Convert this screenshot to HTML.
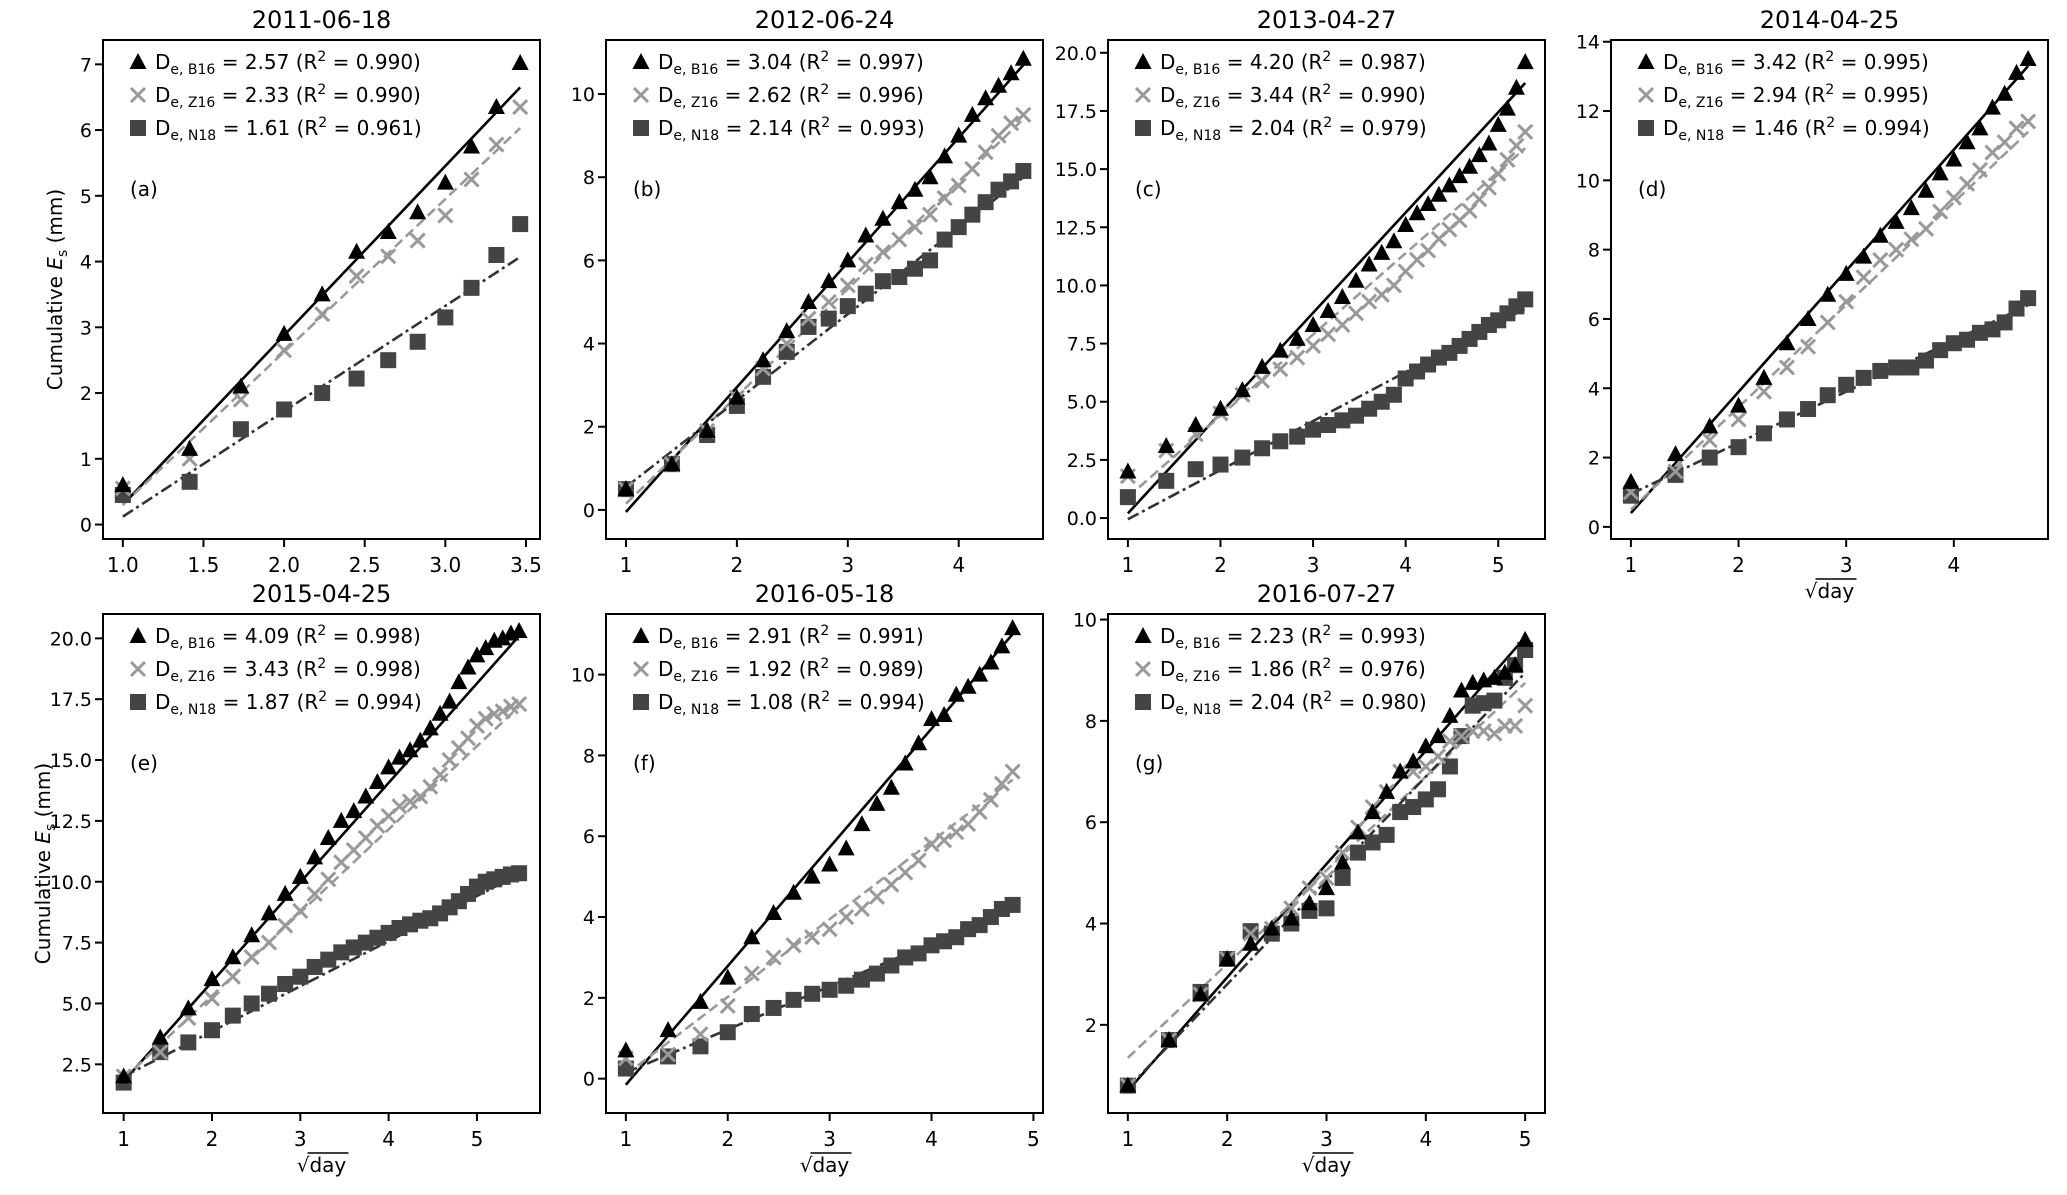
<!DOCTYPE html>
<html><head><meta charset="utf-8"><style>
html,body{margin:0;padding:0;background:#fff;}
svg{display:block;font-family:"DejaVu Sans","Liberation Sans",sans-serif;}
</style></head><body>
<svg id="fig" width="2067" height="1195" viewBox="0 0 2067 1195" xmlns="http://www.w3.org/2000/svg"></svg>
<script>
// ---- data ----
const titles = ["2011-06-18","2012-06-24","2013-04-27","2014-04-25","2015-04-25","2016-05-18","2016-07-27"];
const panelLabels = ["(a)","(b)","(c)","(d)","(e)","(f)","(g)"];
const dayCounts = [12,21,28,22,30,23,25];
const b16 = [
 [0.6,1.15,2.1,2.9,3.5,4.15,4.45,4.75,5.2,5.75,6.35,7.02],
 [0.5,1.1,1.9,2.7,3.6,4.3,5.0,5.5,6.0,6.6,7.0,7.4,7.7,8.0,8.5,9.0,9.5,9.9,10.2,10.5,10.85],
 [2.0,3.1,4.0,4.7,5.5,6.5,7.2,7.7,8.3,8.9,9.5,10.2,10.9,11.4,11.9,12.6,13.1,13.5,13.9,14.3,14.7,15.1,15.6,16.1,16.9,17.6,18.5,19.6],
 [1.3,2.1,2.9,3.5,4.3,5.3,6.0,6.7,7.3,7.8,8.4,8.8,9.2,9.7,10.2,10.6,11.1,11.5,12.1,12.5,13.1,13.5],
 [2.0,3.6,4.8,6.0,6.9,7.8,8.7,9.5,10.2,11.0,11.8,12.5,12.9,13.5,14.1,14.7,15.1,15.4,15.8,16.3,16.9,17.4,18.2,18.8,19.3,19.6,19.9,20.0,20.2,20.3],
 [0.7,1.2,1.9,2.5,3.5,4.1,4.6,5.0,5.3,5.7,6.3,6.8,7.2,7.8,8.3,8.9,9.0,9.5,9.7,10.0,10.3,10.7,11.15],
 [0.8,1.7,2.6,3.3,3.6,3.9,4.1,4.4,4.7,5.2,5.8,6.2,6.6,7.0,7.2,7.5,7.7,8.1,8.6,8.75,8.8,8.85,8.95,9.1,9.6]
];
const z16 = [
 [0.55,1.0,1.9,2.65,3.2,3.78,4.08,4.32,4.7,5.25,5.78,6.35],
 [0.5,1.1,1.9,2.7,3.4,4.0,4.6,5.0,5.4,5.9,6.2,6.5,6.8,7.1,7.5,7.8,8.2,8.6,9.0,9.3,9.5],
 [1.8,2.9,3.6,4.5,5.3,5.9,6.4,6.9,7.4,7.9,8.3,8.8,9.3,9.6,10.0,10.6,11.1,11.5,12.0,12.4,12.8,13.2,13.7,14.2,14.8,15.4,16.0,16.6],
 [1.0,1.6,2.5,3.1,3.9,4.6,5.2,5.9,6.5,7.2,7.7,8.0,8.3,8.6,9.1,9.5,9.9,10.3,10.8,11.1,11.5,11.7],
 [2.0,3.0,4.4,5.2,6.1,6.9,7.5,8.2,8.8,9.5,10.1,10.8,11.3,11.8,12.3,12.7,13.1,13.3,13.5,13.9,14.4,15.0,15.5,15.9,16.4,16.7,16.9,17.0,17.2,17.3],
 [0.5,0.6,1.1,1.8,2.6,3.0,3.3,3.5,3.7,4.0,4.2,4.5,4.8,5.1,5.4,5.8,5.9,6.1,6.3,6.6,6.9,7.3,7.6],
 [0.8,1.7,2.6,3.3,3.8,3.9,4.3,4.7,4.9,5.4,5.9,6.3,6.6,7.0,7.0,7.1,7.3,7.6,7.7,7.8,7.8,7.75,7.9,7.9,8.3]
];
const n18 = [
 [0.45,0.65,1.45,1.75,2.0,2.22,2.5,2.78,3.15,3.6,4.1,4.57],
 [0.5,1.1,1.8,2.5,3.2,3.8,4.4,4.6,4.9,5.2,5.5,5.6,5.8,6.0,6.5,6.8,7.1,7.4,7.7,7.9,8.15],
 [0.9,1.6,2.1,2.3,2.6,3.0,3.3,3.5,3.8,4.0,4.2,4.4,4.7,5.0,5.3,6.0,6.3,6.6,6.9,7.1,7.4,7.7,8.0,8.3,8.5,8.8,9.1,9.4],
 [0.9,1.5,2.0,2.3,2.7,3.1,3.4,3.8,4.1,4.3,4.5,4.6,4.6,4.8,5.1,5.3,5.4,5.6,5.7,5.9,6.3,6.6],
 [1.75,3.0,3.4,3.9,4.5,5.0,5.4,5.8,6.1,6.5,6.8,7.1,7.3,7.5,7.7,7.9,8.1,8.25,8.4,8.5,8.7,8.95,9.2,9.5,9.8,10.0,10.1,10.2,10.3,10.35],
 [0.25,0.55,0.8,1.15,1.6,1.75,1.95,2.1,2.2,2.3,2.45,2.6,2.8,3.0,3.1,3.3,3.4,3.5,3.7,3.8,4.0,4.2,4.3],
 [0.8,1.7,2.65,3.3,3.85,3.8,4.0,4.25,4.3,4.9,5.4,5.6,5.75,6.2,6.3,6.45,6.65,7.1,7.7,8.3,8.35,8.4,8.85,9.1,9.4]
];
// fit line values at first and last x
const fitB16 = [[0.3,6.65],[-0.05,10.7],[0.2,18.7],[0.4,13.3],[1.8,20.1],[-0.15,11.0],[0.7,9.65]];
const fitZ16 = [[0.3,6.03],[0.15,9.4],[0.9,15.9],[0.5,11.4],[1.9,17.2],[0.1,7.4],[1.35,8.75]];
const fitN18 = [[0.12,4.07],[0.55,8.0],[-0.05,9.0],[0.95,6.4],[2.0,10.3],[0.15,4.2],[0.75,8.95]];
const dB16 = ["2.57","3.04","4.20","3.42","4.09","2.91","2.23"];
const rB16 = ["0.990","0.997","0.987","0.995","0.998","0.991","0.993"];
const dZ16 = ["2.33","2.62","3.44","2.94","3.43","1.92","1.86"];
const rZ16 = ["0.990","0.996","0.990","0.995","0.998","0.989","0.976"];
const dN18 = ["1.61","2.14","2.04","1.46","1.87","1.08","2.04"];
const rN18 = ["0.961","0.993","0.979","0.994","0.994","0.994","0.980"];
const xDomains = [[0.877,3.587],[0.82,4.76],[0.785,5.505],[0.815,4.875],[0.766,5.714],[0.805,5.094],[0.8,5.2]];
const yDomains = [[-0.22,7.37],[-0.7,11.3],[-0.9,20.55],[-0.35,14.05],[0.5,21.0],[-0.85,11.5],[0.26,10.11]];
const xTicks = [[1.0,1.5,2.0,2.5,3.0,3.5],[1,2,3,4],[1,2,3,4,5],[1,2,3,4],[1,2,3,4,5],[1,2,3,4,5],[1,2,3,4,5]];
const xTickLabels = [["1.0","1.5","2.0","2.5","3.0","3.5"],["1","2","3","4"],["1","2","3","4","5"],["1","2","3","4"],["1","2","3","4","5"],["1","2","3","4","5"],["1","2","3","4","5"]];
const yTicks = [[0,1,2,3,4,5,6,7],[0,2,4,6,8,10],[0,2.5,5,7.5,10,12.5,15,17.5,20],[0,2,4,6,8,10,12,14],[2.5,5,7.5,10,12.5,15,17.5,20],[0,2,4,6,8,10],[2,4,6,8,10]];
const yTickLabels = [["0","1","2","3","4","5","6","7"],["0","2","4","6","8","10"],["0.0","2.5","5.0","7.5","10.0","12.5","15.0","17.5","20.0"],["0","2","4","6","8","10","12","14"],["2.5","5.0","7.5","10.0","12.5","15.0","17.5","20.0"],["0","2","4","6","8","10"],["2","4","6","8","10"]];
// ---- layout ----
const frames = [[103,40],[606,40],[1108,40],[1611,40],[103,614],[606,614],[1108,614]];
const W = 437, H = 499;
const NS = "http://www.w3.org/2000/svg";
const svg = document.getElementById('fig');
function mk(tag, attrs, parent){const e=document.createElementNS(NS,tag);for(const k in attrs)e.setAttribute(k,attrs[k]);(parent||svg).appendChild(e);return e;}

for(let p=0;p<7;p++){
  const [fx,fy]=frames[p];
  const xd=xDomains[p], yd=yDomains[p];
  const X=v=>fx+(v-xd[0])/(xd[1]-xd[0])*W;
  const Y=v=>fy+H-(v-yd[0])/(yd[1]-yd[0])*H;
  const g=mk('g',{});
  
  
  const t=mk('text',{x:fx+W/2,y:fy-12,'text-anchor':'middle','font-size':24,fill:'#000'},g);
  t.textContent=titles[p];
  
  
  xTicks[p].forEach((v,i)=>{
    const x=X(v);
    const l=mk('line',{x1:x,x2:x,y1:fy+H,y2:fy+H+8,stroke:'#000','stroke-width':2},g);
    
    
    const tl=mk('text',{x:x,y:fy+H+33,'text-anchor':'middle','font-size':20,fill:'#000'},g);
    tl.textContent=xTickLabels[p][i];
    
    
  });
  yTicks[p].forEach((v,i)=>{
    const y=Y(v);
    const l=mk('line',{x1:fx-8,x2:fx,y1:y,y2:y,stroke:'#000','stroke-width':2},g);
    
    
    const tl=mk('text',{x:fx-11,y:y+7,'text-anchor':'end','font-size':19,fill:'#000'},g);
    tl.textContent=yTickLabels[p][i];
    
    
  });
  const xs=[];for(let d=1;d<=dayCounts[p];d++)xs.push(Math.sqrt(d));
  const x0=xs[0], x1=xs[xs.length-1];
  const fits=[[fitB16[p],'#000','none',2.6,'fit-line-b16'],[fitZ16[p],'#999','10,5',2.6,'fit-line-z16'],[fitN18[p],'#333','12,4,3,4',2.6,'fit-line-n18']];
  fits.forEach(f=>{
    const l=mk('line',{x1:X(x0),y1:Y(f[0][0]),x2:X(x1),y2:Y(f[0][1]),stroke:f[1],'stroke-width':f[3],'stroke-dasharray':f[2]},g);
    
    
  });
  n18[p].forEach((v,i)=>{
    const r=mk('rect',{x:X(xs[i])-8,y:Y(v)-8,width:16,height:16,fill:'#444'},g);
    
    
  });
  z16[p].forEach((v,i)=>{
    const cx=X(xs[i]),cy=Y(v);
    const pth=mk('path',{d:`M${cx-7},${cy-7}L${cx+7},${cy+7}M${cx-7},${cy+7}L${cx+7},${cy-7}`,stroke:'#999','stroke-width':3,fill:'none'},g);
    
    
  });
  b16[p].forEach((v,i)=>{
    const cx=X(xs[i]),cy=Y(v);
    const pg=mk('polygon',{points:`${cx},${cy-9} ${cx+8.5},${cy+7} ${cx-8.5},${cy+7}`,fill:'#000'},g);
    
    
  });
  const fr=mk('rect',{x:fx,y:fy,width:W,height:H,fill:'none',stroke:'#000','stroke-width':2},g);
  
  
  const lg=mk('g',{},g);
  
  
  const entries=[['B16',dB16[p],rB16[p]],['Z16',dZ16[p],rZ16[p]],['N18',dN18[p],rN18[p]]];
  entries.forEach((e,k)=>{
    const cy=fy+22+k*33, mx=fx+35;
    let m;
    if(k===0) m=mk('polygon',{points:`${mx},${cy-9} ${mx+8.5},${cy+7} ${mx-8.5},${cy+7}`,fill:'#000'},lg);
    else if(k===1) m=mk('path',{d:`M${mx-7},${cy-7}L${mx+7},${cy+7}M${mx-7},${cy+7}L${mx+7},${cy-7}`,stroke:'#999','stroke-width':3},lg);
    else m=mk('rect',{x:mx-8,y:cy-8,width:16,height:16,fill:'#444'},lg);
    
    
    const tx=mk('text',{x:fx+52,y:cy+7,'font-size':20,fill:'#000'},lg);
    
    
    tx.innerHTML=`D<tspan font-size="14" dy="5">e, ${e[0]}</tspan><tspan dy="-5"> = ${e[1]} (R</tspan><tspan font-size="14" dy="-8">2</tspan><tspan dy="8"> = ${e[2]})</tspan>`;
  });
  const pl=mk('text',{x:fx+27,y:fy+156,'font-size':20,fill:'#000'},g);
  pl.textContent=panelLabels[p];
  
  
}
[[62,40+H/2],[50,614+H/2]].forEach(c=>{
  const t=mk('text',{x:0,y:0,'font-size':20,'text-anchor':'middle',fill:'#000',transform:`translate(${c[0]},${c[1]}) rotate(-90)`});
  
  
  t.innerHTML='Cumulative <tspan font-style="italic">E</tspan><tspan font-size="14" dy="5">s</tspan><tspan dy="-5"> (mm)</tspan>';
});
[[1611+W/2,598],[103+W/2,1172],[606+W/2,1172],[1108+W/2,1172]].forEach(c=>{
  const t=mk('text',{x:c[0],y:c[1],'font-size':20,'text-anchor':'middle',fill:'#000'});
  
  
  t.textContent='\u221Aday';
  const o=mk('line',{x1:c[0]-14,x2:c[0]+27,y1:c[1]-19,y2:c[1]-19,stroke:'#000','stroke-width':1.5});
  
  
});
</script>
</body></html>
